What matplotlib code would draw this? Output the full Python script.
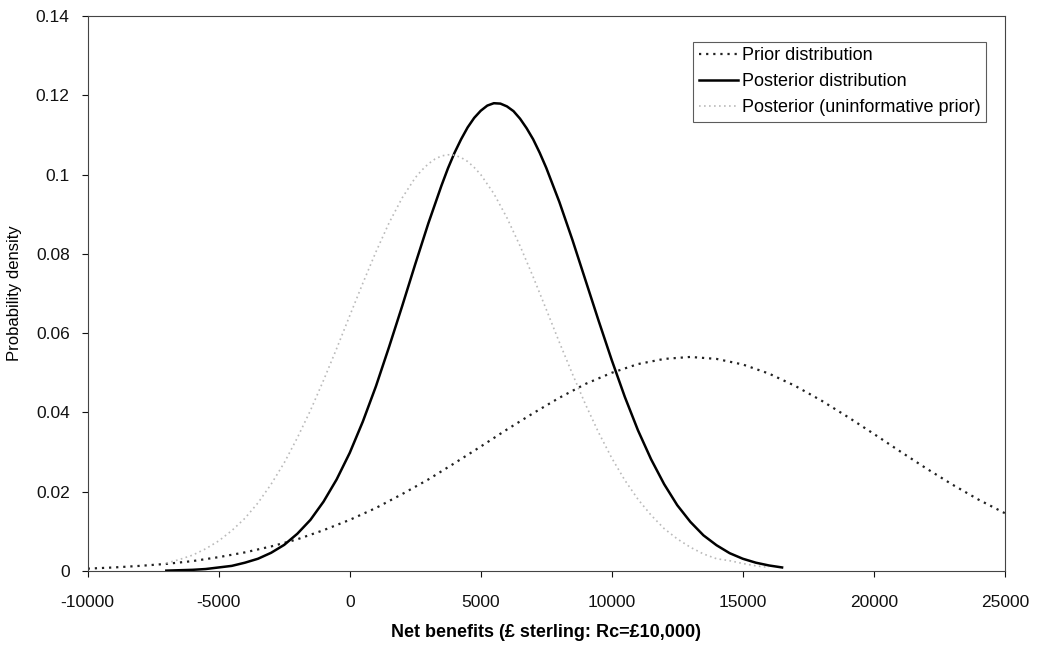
import matplotlib.pyplot as plt

plt.rcParams['font.family'] = ['Liberation Sans', 'DejaVu Sans']

# net benefit grid (£) and densities
x_post = [-7000, -6500, -6000, -5500, -5000, -4500, -4000, -3500, -3000, -2500,
          -2000, -1500, -1000, -500, 0, 500, 1000, 1500, 2000, 2500,
          3000, 3500, 3750, 4000, 4250, 4500, 4750, 5000, 5250, 5500, 5750,
          6000, 6250, 6500, 6750, 7000, 7250, 7500,
          8000, 8500, 9000, 9500, 10000, 10500, 11000, 11500, 12000, 12500,
          13000, 13500, 14000, 14500, 15000, 15500, 16000, 16500]
posterior = [0.0001, 0.0002, 0.0003, 0.0005, 0.0009, 0.0013, 0.0021, 0.0031, 0.0046, 0.0066,
             0.0094, 0.0129, 0.0175, 0.0231, 0.0298, 0.0377, 0.0466, 0.0565, 0.0668, 0.0774,
             0.0877, 0.0972, 0.1016, 0.1055, 0.1089, 0.1119, 0.1143, 0.1161, 0.1174, 0.1180, 0.1179,
             0.1172, 0.1160, 0.1141, 0.1117, 0.1089, 0.1055, 0.1017,
             0.0931, 0.0835, 0.0733, 0.0631, 0.0532, 0.0439, 0.0355, 0.0282, 0.0219, 0.0166,
             0.0124, 0.0090, 0.0065, 0.0045, 0.0031, 0.0021, 0.0014, 0.0009]

x_unif = [-7000, -6500, -6000, -5500, -5000, -4500, -4000, -3500, -3000, -2500,
          -2000, -1500, -1000, -500, 0, 500, 1000, 1500, 2000, 2500, 2750,
          3000, 3250, 3500, 3750, 4000, 4250, 4500, 4750, 5000, 5500, 6000, 6500, 7000, 7500,
          8000, 8500, 9000, 9500, 10000, 10500, 11000, 11500, 12000, 12500,
          13000, 13500, 14000, 14500, 15000, 15500, 16000]
post_unif = [0.0020, 0.0029, 0.0040, 0.0056, 0.0076, 0.0102, 0.0133, 0.0172, 0.0219, 0.0273,
             0.0336, 0.0405, 0.0481, 0.0561, 0.0644, 0.0726, 0.0805, 0.0878, 0.0941, 0.0992, 0.1011,
             0.1027, 0.1039, 0.1047, 0.1050, 0.1049, 0.1043, 0.1033, 0.1018, 0.1000, 0.0952, 0.0891,
             0.0820, 0.0742, 0.0660,
             0.0577, 0.0497, 0.0420, 0.0349, 0.0285, 0.0229, 0.0181, 0.0141, 0.0107, 0.0081,
             0.0060, 0.0043, 0.0031, 0.0026, 0.0019, 0.0013, 0.0009]

x_prior = list(range(-10000, 25001, 1000))
prior = [0.0006, 0.0009, 0.0013, 0.0018, 0.0025, 0.0035, 0.0047, 0.0062, 0.0080, 0.0103,
         0.0129, 0.0159, 0.0194, 0.0231, 0.0272, 0.0314, 0.0357, 0.0398, 0.0437, 0.0472,
         0.0500, 0.0522, 0.0535, 0.0540, 0.0535, 0.0521, 0.0498, 0.0467, 0.0430, 0.0389,
         0.0346, 0.0302, 0.0259, 0.0218, 0.0180, 0.0146]

xticks = [-10000, -5000, 0, 5000, 10000, 15000, 20000, 25000]
yticks = [0, 0.02, 0.04, 0.06, 0.08, 0.1, 0.12, 0.14]
ytick_labels = ['0', '0.02', '0.04', '0.06', '0.08', '0.1', '0.12', '0.14']

fig = plt.figure(figsize=(10.38, 6.45), dpi=100)
ax = fig.add_axes([0.0845, 0.1147, 0.8835, 0.8605])

ax.plot(x_prior, prior, color='#222222', lw=1.6, ls=(0, (1, 2.2)), label='Prior distribution')
ax.plot(x_post, posterior, color='black', lw=1.8, label='Posterior distribution')
ax.plot(x_unif, post_unif, color='#bababa', lw=1.2, ls=(0, (1, 2)),
        label='Posterior (uninformative prior)')

ax.set_xlim(-10000, 25000)
ax.set_ylim(0, 0.14)
ax.set_xticks(xticks)
ax.set_xticklabels([str(t) for t in xticks])
ax.set_yticks(yticks)
ax.set_yticklabels(ytick_labels)
ax.tick_params(direction='out', length=4, width=0.8, labelsize=12.5, colors='#111111')
ax.tick_params(axis='x', pad=13)
ax.tick_params(axis='y', pad=9)
for s in ax.spines.values():
    s.set_linewidth(0.8)
    s.set_color('#444444')

ax.set_xlabel('Net benefits (£ sterling: Rc=£10,000)', fontsize=13, fontweight='bold', labelpad=10)
ax.set_ylabel('Probability density', fontsize=12, labelpad=10)

leg = ax.legend(loc='upper right', bbox_to_anchor=(986 / 1038, 1 - 42 / 645),
                bbox_transform=fig.transFigure, borderaxespad=0, fontsize=13,
                fancybox=False, frameon=True, handlelength=2.2, handletextpad=0.2,
                labelspacing=0.5, borderpad=0.3)
leg.get_frame().set_edgecolor('#333333')
leg.get_frame().set_linewidth(0.8)

fig.savefig('out.png', dpi=100)
